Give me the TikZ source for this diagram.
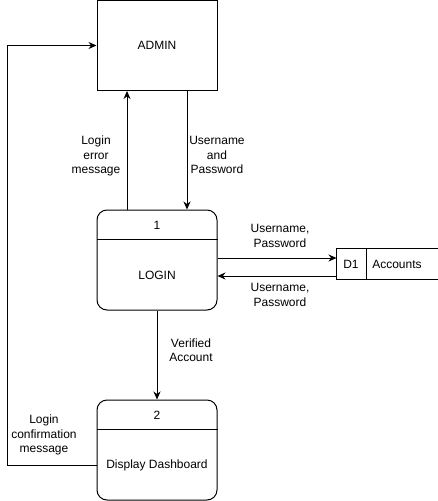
\documentclass[tikz,border=0pt]{standalone}
\usepackage{fontspec}
\setmainfont{Liberation Sans}
\usetikzlibrary{arrows.meta}
\begin{document}
\begin{tikzpicture}[x=1pt,y=-1pt,line width=1pt,
  every node/.style={font=\fontsize{12}{14.5}\selectfont,inner sep=0pt},
  entity/.style={draw,rectangle,minimum width=120pt,minimum height=90pt},
  procbox/.style={draw,rectangle,rounded corners=10pt,minimum width=120pt,minimum height=100pt},
  lbl/.style={align=center},
  flow/.style={-{Stealth[length=8pt,width=7pt]}}]
\fill[white] (0,0) rectangle (438,501);
\useasboundingbox (0,0) rectangle (438,501);
% ADMIN
\node[entity] (admin) at (157,45.5) {ADMIN};
% LOGIN process
\node[procbox] (login) at (157,260) {};
\draw ([yshift=-30pt]login.north west) -- ([yshift=-30pt]login.north east);
\node (loginid) at (157,225) {1};
\node (logintxt) at (157,275) {LOGIN};
% Dashboard process
\node[procbox] (dash) at (157,450) {};
\draw ([yshift=-30pt]dash.north west) -- ([yshift=-30pt]dash.north east);
\node (dashid) at (157,415) {2};
\node (dashtxt) at (157,465) {Display Dashboard};
% Data store
\node[minimum width=101pt,minimum height=30pt] (store) at (387.5,264) {};
\draw (store.north east) -- (store.north west) -- (store.south west) -- (store.south east);
\draw ([xshift=30pt]store.north west) -- ([xshift=30pt]store.south west);
\node (d1) at (351,264) {D1};
\node (acc) at (397,264) {Accounts};
% flows
\draw[flow] ([xshift=-30pt]login.north) -- ([xshift=-30pt]admin.south);
\draw[flow] ([xshift=30pt]admin.south) -- ([xshift=30pt]login.north);
\draw[flow] ([yshift=2pt]login.east) -- ([yshift=2pt]login.east -| store.west);
\draw[flow] ([yshift=-16pt]login.east -| store.west) -- ([yshift=-16pt]login.east);
\draw[flow] (login.south) -- (dash.north);
\coordinate (lb) at (7.5,465);
\coordinate (lt) at (7.5,45.5);
\draw[flow] ([yshift=-15pt]dash.west) -- (lb) -- (lt) -- (admin.west);
% labels
\node[lbl] (l1) at (96,156) {Login\\error\\message};
\node[lbl] (l2) at (217,155) {Username\\and\\Password};
\node[lbl] (l3) at (280,236) {Username,\\Password};
\node[lbl] (l4) at (280,295) {Username,\\Password};
\node[lbl] (l5) at (191,350) {Verified\\Account};
\node[lbl] (l6) at (44,435) {Login\\confirmation\\message};
\end{tikzpicture}
\end{document}
